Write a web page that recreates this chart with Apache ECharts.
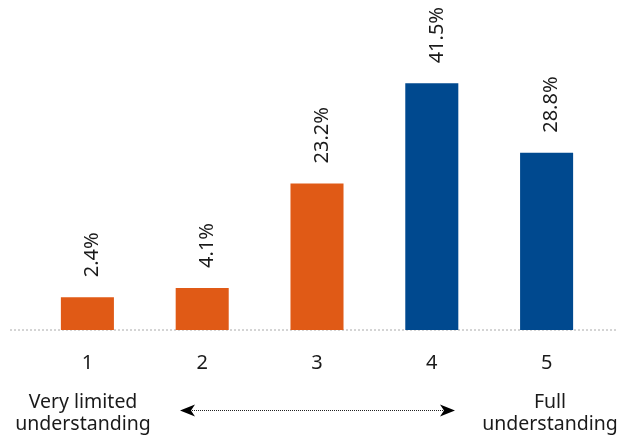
<!DOCTYPE html>
<html><head><meta charset="utf-8">
<script src="https://cdn.jsdelivr.net/npm/echarts@6/dist/echarts.min.js"></script>
<style>html,body{margin:0;padding:0;background:#fff}#c{width:620px;height:436px}</style>
</head><body><div id="c"></div>
<script>
const categories = ['1', '2', '3', '4', '5'];
const values = [2.4, 4.1, 23.2, 41.5, 28.8];
const leftNote = 'Very limited\nunderstanding';
const rightNote = 'Full\nunderstanding';
const barColors = ['#E05A16', '#E05A16', '#E05A16', '#00498F', '#00498F'];

const FONT = '"Noto Sans", "Open Sans", sans-serif';
const Y_MIN = -3.6, Y_MAX = 55;

const chart = echarts.init(document.getElementById('c'), null, {renderer: 'canvas'});
chart.setOption({
  animation: false,
  grid: {left: 30, right: 16, top: 9.5, bottom: 106},
  xAxis: {
    type: 'category', data: categories,
    axisLine: {show: false}, axisTick: {show: false},
    axisLabel: {color: '#1a1a1a', fontFamily: FONT, fontSize: 20, margin: 23}
  },
  yAxis: {type: 'value', min: Y_MIN, max: Y_MAX, show: false, splitLine: {show: false}},
  series: [{
    type: 'custom',
    data: values.map((v, i) => [i, v]),
    renderItem: function (params, api) {
      const i = api.value(0), v = api.value(1);
      const top = api.coord([i, v]);
      const bot = api.coord([i, Y_MIN]);
      const w = api.size([1, 0])[0] * 0.462;
      return {
        type: 'group',
        children: [
          {type: 'rect', shape: {x: top[0] - w / 2, y: top[1], width: w, height: bot[1] - top[1]},
           style: {fill: barColors[params.dataIndex]}},
          {type: 'text', x: top[0] + 5, y: top[1] - 20, rotation: Math.PI / 2,
           style: {text: v.toFixed(1) + '%', fill: '#1a1a1a', font: '20px ' + FONT,
                   align: 'left', verticalAlign: 'middle'}}
        ]
      };
    }
  }]
});

const baseY = chart.convertToPixel({yAxisIndex: 0}, Y_MIN);
chart.setOption({
  graphic: [
    {type: 'line', shape: {x1: 10, y1: baseY, x2: 618, y2: baseY},
     style: {stroke: '#aaaaaa', lineWidth: 1, lineDash: [2, 2]}, silent: true},
    {type: 'text', x: 83, y: 391.5, style: {text: leftNote, font: '19.5px ' + FONT, fill: '#1a1a1a',
     align: 'center', verticalAlign: 'top', lineHeight: 22}},
    {type: 'text', x: 550, y: 391.5, style: {text: rightNote, font: '19.5px ' + FONT, fill: '#1a1a1a',
     align: 'center', verticalAlign: 'top', lineHeight: 22}},
    {type: 'line', shape: {x1: 190, y1: 410.5, x2: 445, y2: 410.5},
     style: {stroke: '#222', lineWidth: 1, lineDash: [1, 1]}},
    {type: 'polygon', shape: {points: [[180, 410.5], [195, 404.5], [191, 410.5], [195, 416.5]]},
     style: {fill: '#000'}},
    {type: 'polygon', shape: {points: [[455, 410.5], [440, 404.5], [444, 410.5], [440, 416.5]]},
     style: {fill: '#000'}}
  ]
});
</script></body></html>
